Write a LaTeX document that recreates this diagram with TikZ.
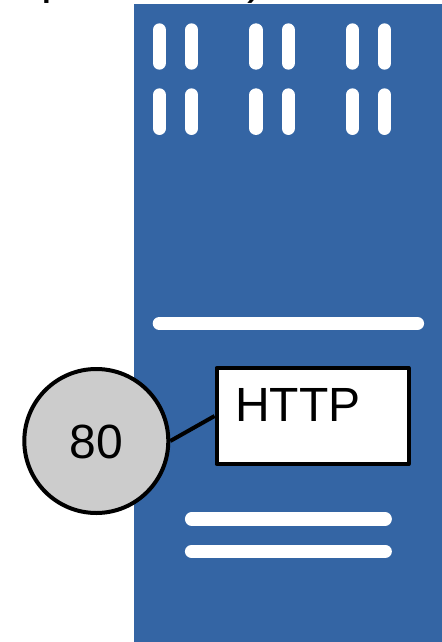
\documentclass[tikz,border=0pt]{standalone}
\usepackage{fontspec}
\setmainfont{Liberation Sans}
\definecolor{panelblue}{HTML}{3465A4}
\definecolor{portgrey}{HTML}{CCCCCC}
\tikzset{
  slot/.style={line width=10pt, line cap=round, draw=white},
  edge/.style={line width=3pt, draw=black},
  bigtext/.style={font=\fontsize{36}{42}\selectfont, inner sep=0pt},
}
\begin{document}
\begin{tikzpicture}[x=0.75pt,y=-0.75pt,line join=round]
\useasboundingbox (0,0) rectangle (442,642);
\begin{scope}
\clip (0,0) rectangle (442,642);
\fill[panelblue] (134,4.4) rectangle (442,642);
\foreach \x in {159.4,191.6,256,288.2,352.5,384.6}{
  \draw[slot] (\x,30) -- (\x,63);
  \draw[slot] (\x,95) -- (\x,128.3);
}
\draw[slot] (159.4,323.4) -- (417.4,323.4);
\draw[slot] (191.6,519) -- (385.2,519);
\draw[slot] (191.6,551.4) -- (385.2,551.4);
\node[bigtext,anchor=base west] (capl) at (41,-6.5) {p};
\node[bigtext,anchor=base west] (capr) at (247,-6) {)};
\end{scope}
\node[circle,draw=black,line width=3pt,fill=portgrey,minimum size=108pt,inner sep=0pt] (port) at (96.3,441) {};
\node[bigtext,anchor=base] (portlabel) at (96.3,458) {80};
\node[rectangle,draw=black,line width=3pt,fill=white,minimum width=144pt,minimum height=72pt,inner sep=0pt] (box) at (312.6,416) {};
\node[bigtext,anchor=base west] (boxlabel) at (235,421) {HTTP};
\draw[edge] (port.east) -- (box.west);
\end{tikzpicture}
\end{document}
